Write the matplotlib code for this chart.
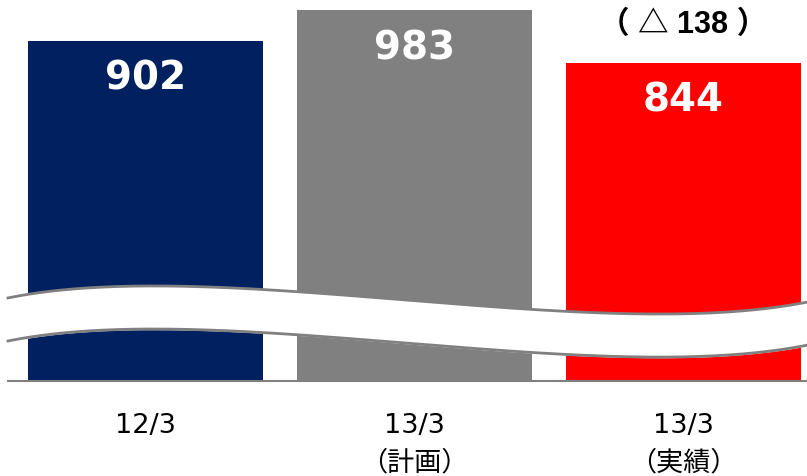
import numpy as np
import matplotlib
matplotlib.use('Agg')
import matplotlib.pyplot as plt

plt.rcParams['font.family'] = ['Noto Sans CJK JP', 'DejaVu Sans']

# 期末値
categories = ['12/3', '13/3\n（計画）', '13/3\n（実績）']
values = [902, 983, 844]
colors = ['#002060', '#808080', '#ff0000']
diff_label = '（ △ 138 ）'

fig = plt.figure(figsize=(8.07, 4.76), dpi=100)
ax = fig.add_axes([8 / 807, 95 / 476, 799 / 807, 381 / 476])

x = np.arange(len(values))
bars = ax.bar(x, values, width=0.875, color=colors, zorder=2)

ax.set_xlim(-0.511, 2.46)
ax.set_ylim(0, 1010)

# 数値ラベル
for xi, v in zip(x, values):
    ax.annotate(f'{v}', (xi, v), xytext=(0, -27.5), textcoords='offset points',
                ha='center', va='center', color='white', fontsize=28,
                fontweight='bold', family='DejaVu Sans', zorder=5)

ax.annotate(diff_label, (x[2], values[2]), xytext=(0, 27), textcoords='offset points',
            ha='center', va='center', color='black', fontsize=22, fontweight='bold',
            family=['Liberation Sans', 'Noto Sans CJK JP'])

# 省略線（波形）
t = np.linspace(0, 1, 300)[:, None]
P = np.array([[0.0, 0.218], [0.265, 0.331], [0.728, 0.0945], [1.0, 0.207]])
curve = ((1 - t) ** 3 * P[0] + 3 * (1 - t) ** 2 * t * P[1]
         + 3 * (1 - t) * t ** 2 * P[2] + t ** 3 * P[3])
cx, cy = curve[:, 0], curve[:, 1]
gap = 0.113
ax.fill_between(cx, cy - gap, cy, color='white', transform=ax.transAxes, zorder=3)
ax.plot(cx, cy, color='#808080', lw=2, transform=ax.transAxes, zorder=4, clip_on=False)
ax.plot(cx, cy - gap, color='#808080', lw=2, transform=ax.transAxes, zorder=4, clip_on=False)

for s in ['top', 'right', 'left']:
    ax.spines[s].set_visible(False)
ax.spines['bottom'].set_color('#808080')
ax.spines['bottom'].set_linewidth(1.5)
ax.spines['bottom'].set_zorder(6)

ax.set_yticks([])
ax.set_xticks(x)
ax.set_xticklabels(categories, fontsize=19.5, linespacing=1.55,
                   family=['DejaVu Sans', 'Noto Sans CJK JP'])
ax.tick_params(axis='x', length=0, pad=23)

fig.savefig('out.png', dpi=100)
